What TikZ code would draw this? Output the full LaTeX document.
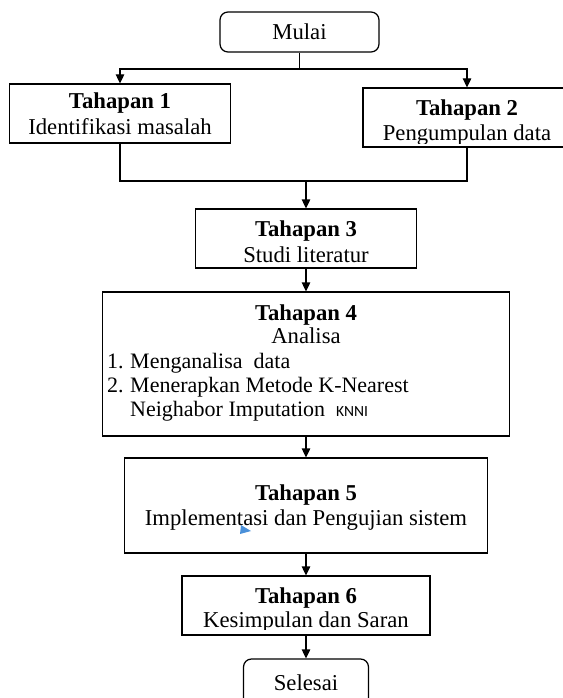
\documentclass[tikz,border=0pt]{standalone}
\usepackage{fontspec}
\setmainfont{Liberation Serif}
\newfontfamily\knnifont{Carlito}
\usetikzlibrary{arrows.meta}
\definecolor{markblue}{RGB}{74,144,217}
\begin{document}
\begin{tikzpicture}[x=1pt,y=-1pt,
  box/.style={draw, line width=1.25pt, inner sep=0pt},
  rbox/.style={box, rounded corners=8pt},
  txt/.style={inner sep=0pt, anchor=base, font=\fontsize{22.7}{26}\selectfont},
  btxt/.style={inner sep=0pt, anchor=base, font=\fontsize{22.7}{26}\selectfont\bfseries},
  ltxt/.style={inner sep=0pt, anchor=base west, font=\fontsize{22}{26}\selectfont},
  conn/.style={line width=1.25pt},
  arr/.style={line width=1.25pt, -{Triangle[length=9pt,width=8.5pt]}},
]
\useasboundingbox (0,0) rectangle (562,698);

% boxes
\node[rbox, minimum width=159pt, minimum height=40pt] (mulai) at (299.5,32) {};
\node[box, minimum width=221pt, minimum height=59pt] (t1) at (120,113.5) {};
\node[box, minimum width=208pt, minimum height=59pt] (t2) at (467,117.5) {};
\node[box, minimum width=221pt, minimum height=59pt] (t3) at (306,238.5) {};
\node[box, minimum width=407pt, minimum height=144pt] (t4) at (306,364) {};
\node[box, minimum width=363pt, minimum height=95pt] (t5) at (306,505.5) {};
\node[box, minimum width=248pt, minimum height=59pt] (t6) at (306,605.5) {};
\node[rbox, minimum width=125pt, minimum height=56pt] (selesai) at (306,687) {};

% texts
\node[txt] (mulaitxt) at (299.5,40) {Mulai};
\node[btxt] (t1a) at (120,109) {Tahapan 1};
\node[txt] (t1b) at (120,134) {Identifikasi masalah};
\node[btxt] (t2a) at (467,116) {Tahapan 2};
\begin{scope}
\clip (363,120) rectangle (571,143);
\node[txt] (t2b) at (467,140) {Pengumpulan data};
\end{scope}
\node[btxt] (t3a) at (306,236) {Tahapan 3};
\begin{scope}
\clip (196,240) rectangle (417,263);
\node[txt] (t3b) at (306,262) {Studi literatur};
\end{scope}
\node[btxt] (t4a) at (306,320) {Tahapan 4};
\node[txt] (t4b) at (306,343) {Analisa};
\node[ltxt] (n1) at (107,368) {1.};
\node[ltxt] (i1) at (130,368) {Menganalisa\ \ data};
\node[ltxt] (n2) at (107,392) {2.};
\node[ltxt] (i2) at (130,392) {Menerapkan Metode K-Nearest};
\node[ltxt] (i3) at (130,416) {Neighabor\ Imputation\ \ {\knnifont\fontsize{15.5}{16}\selectfont KNNI}};
\node[btxt] (t5a) at (306,500) {Tahapan 5};
\node[txt] (t5b) at (306,525) {Implementasi dan Pengujian sistem};
\node[btxt] (t6a) at (306,603) {Tahapan 6};
\begin{scope}
\clip (182,606) rectangle (430,629);
\node[txt] (t6b) at (306,627) {Kesimpulan dan Saran};
\end{scope}
\node[txt] (seltxt) at (306,690) {Selesai};

% blue mark
\fill[markblue] (241,525) -- (251,531) -- (240,534) -- cycle;

% connectors
\coordinate (j1) at (299.5,69);
\coordinate (j2) at (306,181);
\draw[conn] (mulai.south) -- (j1);
\draw[arr] (j1) -| (t1.north);
\draw[arr] (j1) -| (t2.north);
\draw[conn] (t1.south) |- (j2);
\draw[conn] (t2.south) |- (j2);
\draw[arr] (j2) -- (t3.north);
\draw[arr] (t3.south) -- (t4.north);
\draw[arr] (t4.south) -- (t5.north);
\draw[arr] (t5.south) -- (t6.north);
\draw[arr] (t6.south) -- (selesai.north);
\end{tikzpicture}
\end{document}
